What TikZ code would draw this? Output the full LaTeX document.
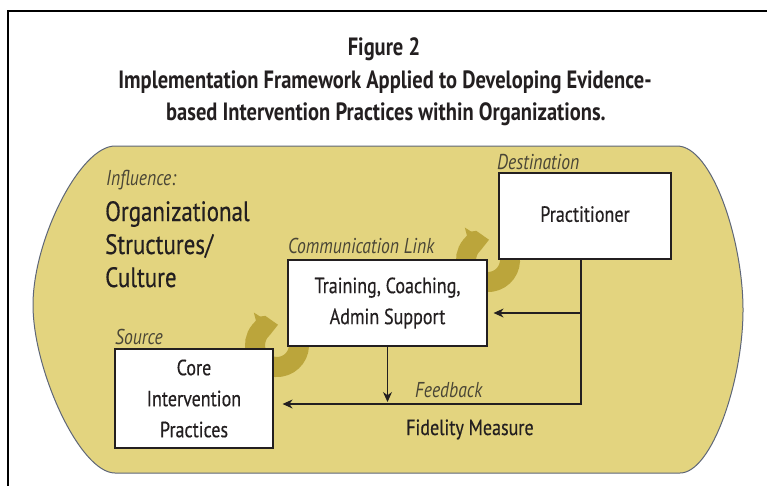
\documentclass[tikz,border=0pt]{standalone}
\usepackage{fontspec}
\setmainfont{PT Sans}[FakeStretch=0.82, UprightFeatures={FakeBold=0.4}]
\usetikzlibrary{arrows.meta,calc}

\definecolor{khaki}{HTML}{E3D47F}
\definecolor{olivearrow}{HTML}{BBA53B}
\definecolor{rim}{HTML}{5E6678}
\definecolor{ink}{HTML}{231F20}
\definecolor{note}{HTML}{4A4636}

\tikzset{
  stagebox/.style={draw=ink, line width=1.2pt, fill=white, rectangle,
    inner sep=0pt, align=center, text=ink,
    font=\fontsize{22}{31}\selectfont},
  tag/.style={anchor=base west, inner sep=0pt, text=note,
    font=\itshape\fontsize{21.5}{24}\selectfont},
  heading/.style={anchor=base, inner sep=0pt, text=ink,
    font=\bfseries\fontsize{25}{29}\selectfont},
  bigtext/.style={anchor=base west, inner sep=0pt, text=ink,
    font=\fontsize{28}{33}\selectfont},
  flow/.style={draw=ink, line width=1.2pt,
    -{Stealth[length=10pt,width=9pt]}},
  swirl/.style={draw=olivearrow, line width=20pt,
    -{Triangle[length=14pt,width=30pt]}},
}

\begin{document}
\begin{tikzpicture}[x=1pt,y=-1pt]
  \useasboundingbox (0,0) rectangle (767,485);
  \fill[white] (0,0) rectangle (767,485);

  % page frame
  \draw[line width=2.6pt, line cap=butt] (8,490) -- (8,11) -- (772,11);

  % title
  \node[heading] (title1) at (384,55) {Figure 2};
  \node[heading] (title2) at (385,88) {Implementation Framework Applied to Developing Evidence-};
  \node[heading] (title3) at (386,120) {based Intervention Practices within Organizations.};

  % organisational context
  \path[fill=khaki, draw=rim, line width=1pt]
    (115,146) -- (677,146)
    .. controls (712,146) and (743,240) .. (743,310)
    .. controls (743,380) and (712,473) .. (680,473)
    -- (115,473)
    .. controls (80,473) and (33,370) .. (33,305)
    .. controls (33,240) and (80,146) .. (115,146) -- cycle;

  \node[tag] (influence) at (106,185) {Influence:};
  \node[bigtext] (org1) at (105,221) {Organizational};
  \node[bigtext] (org2) at (105,254) {Structures/};
  \node[bigtext] (org3) at (105,287) {Culture};

  % transfer swirls (partly hidden behind the stage boxes)
  \coordinate (s1) at (277,345);
  \coordinate (s2) at (488,260);
  \draw[swirl] ($(s1)+(-20:22)$) arc[start angle=-20, end angle=255, radius=22];
  \draw[swirl] ($(s2)+(-20:22)$) arc[start angle=-20, end angle=255, radius=22];

  % stages
  \node[stagebox, minimum width=158pt, minimum height=99pt] (core) at (194,398.5)
    {Core\\Intervention\\Practices};
  \node[stagebox, minimum width=199pt, minimum height=86pt] (train) at (387.5,303)
    {Training, Coaching,\\Admin Support};
  \node[stagebox, minimum width=172pt, minimum height=86pt, text depth=4pt] (prac) at (585,216)
    {Practitioner};

  \node[tag] (source) at (115,344) {Source};
  \node[tag] (comm) at (288,253) {Communication Link};
  \node[tag] (dest) at (497,169) {Destination};
  \node[tag] (feedback) at (415,397) {Feedback};
  \node[anchor=base west, inner sep=0pt, text=ink, font=\fontsize{22}{26}\selectfont]
    (fidelity) at (406,435) {Fidelity Measure};

  % feedback loop
  \coordinate (fbturn) at (581,404);
  \coordinate (fbtap) at (581,313);
  \draw[flow, shorten >=9pt] (prac.south -| fbturn) -- (fbturn) -- (core.east |- fbturn);
  \draw[flow, shorten >=6pt] (fbtap) -- (train.east |- fbtap);
  \draw[flow, shorten >=2pt] (train.south) -- (train.south |- fbturn);
\end{tikzpicture}
\end{document}
